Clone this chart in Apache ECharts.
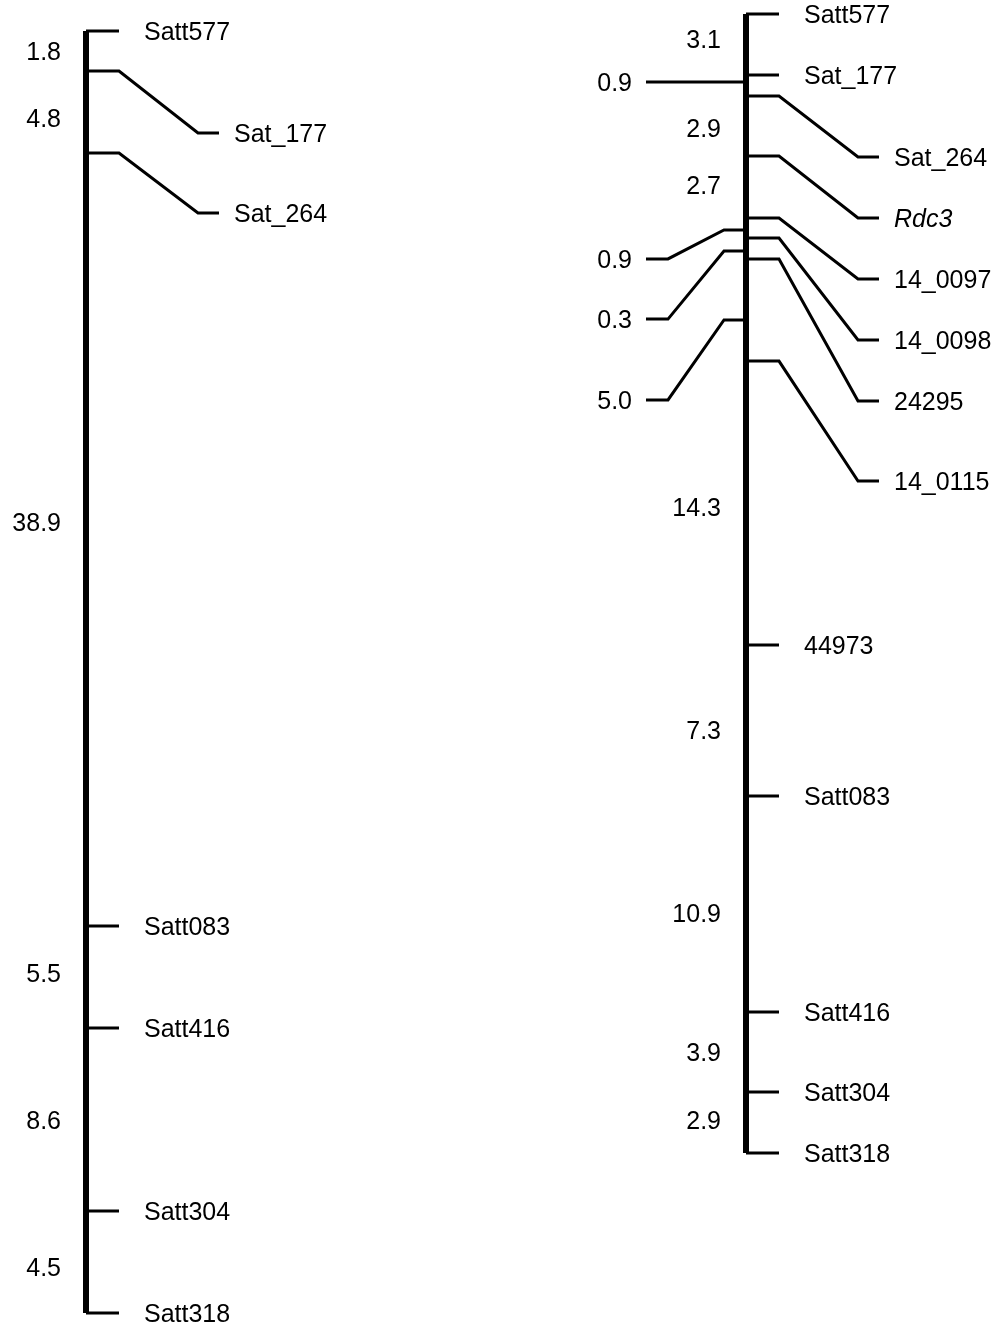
<!DOCTYPE html>
<html>
<head>
<meta charset="utf-8">
<script src="https://cdn.jsdelivr.net/npm/echarts@6/dist/echarts.min.js"></script>
<style>html,body{margin:0;padding:0;background:#fff}#chart{width:1000px;height:1326px}</style>
</head>
<body>
<div id="chart"></div>
<script>
// ---- Data (positions in cM) ----
const leftMarkers = ['Satt577', 'Sat_177', 'Sat_264', 'Satt083', 'Satt416', 'Satt304', 'Satt318'];
const leftPos = [0, 2.0, 6.1, 44.75, 49.85, 59.0, 64.1];
const leftLabelPos = [0, 5.1, 9.1, 44.75, 49.85, 59.0, 64.1];
const leftIntervals = ['1.8', '4.8', '38.9', '5.5', '8.6', '4.5'];
const leftIntervalPos = [1.0, 4.35, 24.55, 47.1, 54.45, 61.8];

const rightMarkers = ['Satt577', 'Sat_177', 'Sat_264', 'Rdc3', '14_0097', '14_0098', '24295', '14_0115', '44973', 'Satt083', 'Satt416', 'Satt304', 'Satt318'];
const rightPos = [0, 2.95, 3.97, 6.87, 9.87, 10.84, 11.85, 16.79, 30.53, 37.83, 48.28, 52.15, 55.1];
const rightLabelPos = [0, 2.95, 6.92, 9.87, 12.82, 15.77, 18.72, 22.59, 30.53, 37.83, 48.28, 52.15, 55.1];
const rightIntervals = ['3.1', '0.9', '2.9', '2.7', '0.9', '0.3', '5.0', '14.3', '7.3', '10.9', '3.9', '2.9'];
const rightIntervalPos = [1.23, 3.29, 5.54, 8.27, 11.85, 14.76, 18.67, 23.85, 34.64, 43.49, 50.22, 53.51];
const rightLeaderTarget = [null, 3.29, null, null, 10.45, 11.47, 14.80, null, null, null, null, null];

const italicMarkers = ['Rdc3'];

// ---- Styling ----
const FONT = "'Liberation Sans', Arial, sans-serif";
const FS = 25;
const TY = 2; // small downward nudge for visual centring of glyphs
const TICK = 33, LABEL_GAP = 58, DIAG_END = 112, H_END = 133, DLABEL = 148;

function markerSeries(gridIndex, names, pos, labelPos) {
  return {
    type: 'custom',
    xAxisIndex: gridIndex, yAxisIndex: gridIndex,
    clip: false,
    data: pos.map((p, i) => [0, p, labelPos[i], i]),
    encode: { x: 0, y: 1 },
    renderItem: function (params, api) {
      const i = api.value(3);
      const p0 = api.coord([0, api.value(1)]);
      const pl = api.coord([0, api.value(2)]);
      const bx = p0[0], y = p0[1], yl = pl[1];
      const name = names[i];
      const displaced = Math.abs(yl - y) > 0.5;
      const pts = displaced
        ? [[bx, y], [bx + TICK, y], [bx + DIAG_END, yl], [bx + H_END, yl]]
        : [[bx, y], [bx + TICK, y]];
      return {
        type: 'group',
        children: [
          { type: 'polyline', shape: { points: pts }, style: { stroke: '#000', lineWidth: 3, fill: null } },
          { type: 'text', style: {
              text: name, x: bx + (displaced ? DLABEL : LABEL_GAP), y: yl + TY,
              fill: '#000', fontSize: FS, fontFamily: FONT,
              fontStyle: italicMarkers.indexOf(name) >= 0 ? 'italic' : 'normal',
              align: 'left', verticalAlign: 'middle', textAlign: 'left', textVerticalAlign: 'middle'
          } }
        ]
      };
    }
  };
}

function intervalSeries(gridIndex, labels, labelPos, targets) {
  return {
    type: 'custom',
    xAxisIndex: gridIndex, yAxisIndex: gridIndex,
    clip: false,
    data: labelPos.map((p, i) => [0, p, i]),
    encode: { x: 0, y: 1 },
    renderItem: function (params, api) {
      const i = api.value(2);
      const pt = api.coord([0, api.value(1)]);
      const bx = pt[0], y = pt[1];
      const t = targets ? targets[i] : null;
      const children = [];
      if (t !== null && t !== undefined) {
        const yt = api.coord([0, t])[1];
        const pts = Math.abs(yt - y) < 0.5
          ? [[bx - 100, y], [bx, y]]
          : [[bx - 100, y], [bx - 78, y], [bx - 22, yt], [bx - 3, yt]];
        children.push({ type: 'polyline', shape: { points: pts }, style: { stroke: '#000', lineWidth: 3, fill: null } });
        children.push({ type: 'text', style: {
          text: labels[i], x: bx - 114, y: y + TY, fill: '#000', fontSize: FS, fontFamily: FONT,
          align: 'right', verticalAlign: 'middle', textAlign: 'right', textVerticalAlign: 'middle' } });
      } else {
        children.push({ type: 'text', style: {
          text: labels[i], x: bx - 25, y: y + TY, fill: '#000', fontSize: FS, fontFamily: FONT,
          align: 'right', verticalAlign: 'middle', textAlign: 'right', textVerticalAlign: 'middle' } });
      }
      return { type: 'group', children: children };
    }
  };
}

function barSeries(gridIndex, pos) {
  return {
    type: 'line', xAxisIndex: gridIndex, yAxisIndex: gridIndex,
    data: [[0, pos[0]], [0, pos[pos.length - 1]]],
    symbol: 'none', silent: true, clip: false,
    lineStyle: { color: '#000', width: 6, cap: 'butt' }
  };
}

const chart = echarts.init(document.getElementById('chart'), null, { renderer: 'canvas' });
chart.setOption({
  backgroundColor: '#fff',
  animation: false,
  grid: [
    { left: 86, top: 31, width: 300, height: 1282 },
    { left: 746, top: 14, width: 250, height: 1139 }
  ],
  xAxis: [
    { type: 'value', gridIndex: 0, min: 0, max: 300, show: false },
    { type: 'value', gridIndex: 1, min: 0, max: 250, show: false }
  ],
  yAxis: [
    { type: 'value', gridIndex: 0, min: 0, max: leftPos[leftPos.length - 1], inverse: true, show: false },
    { type: 'value', gridIndex: 1, min: 0, max: rightPos[rightPos.length - 1], inverse: true, show: false }
  ],
  series: [
    barSeries(0, leftPos),
    markerSeries(0, leftMarkers, leftPos, leftLabelPos),
    intervalSeries(0, leftIntervals, leftIntervalPos, null),
    barSeries(1, rightPos),
    markerSeries(1, rightMarkers, rightPos, rightLabelPos),
    intervalSeries(1, rightIntervals, rightIntervalPos, rightLeaderTarget)
  ]
});
</script>
</body>
</html>
